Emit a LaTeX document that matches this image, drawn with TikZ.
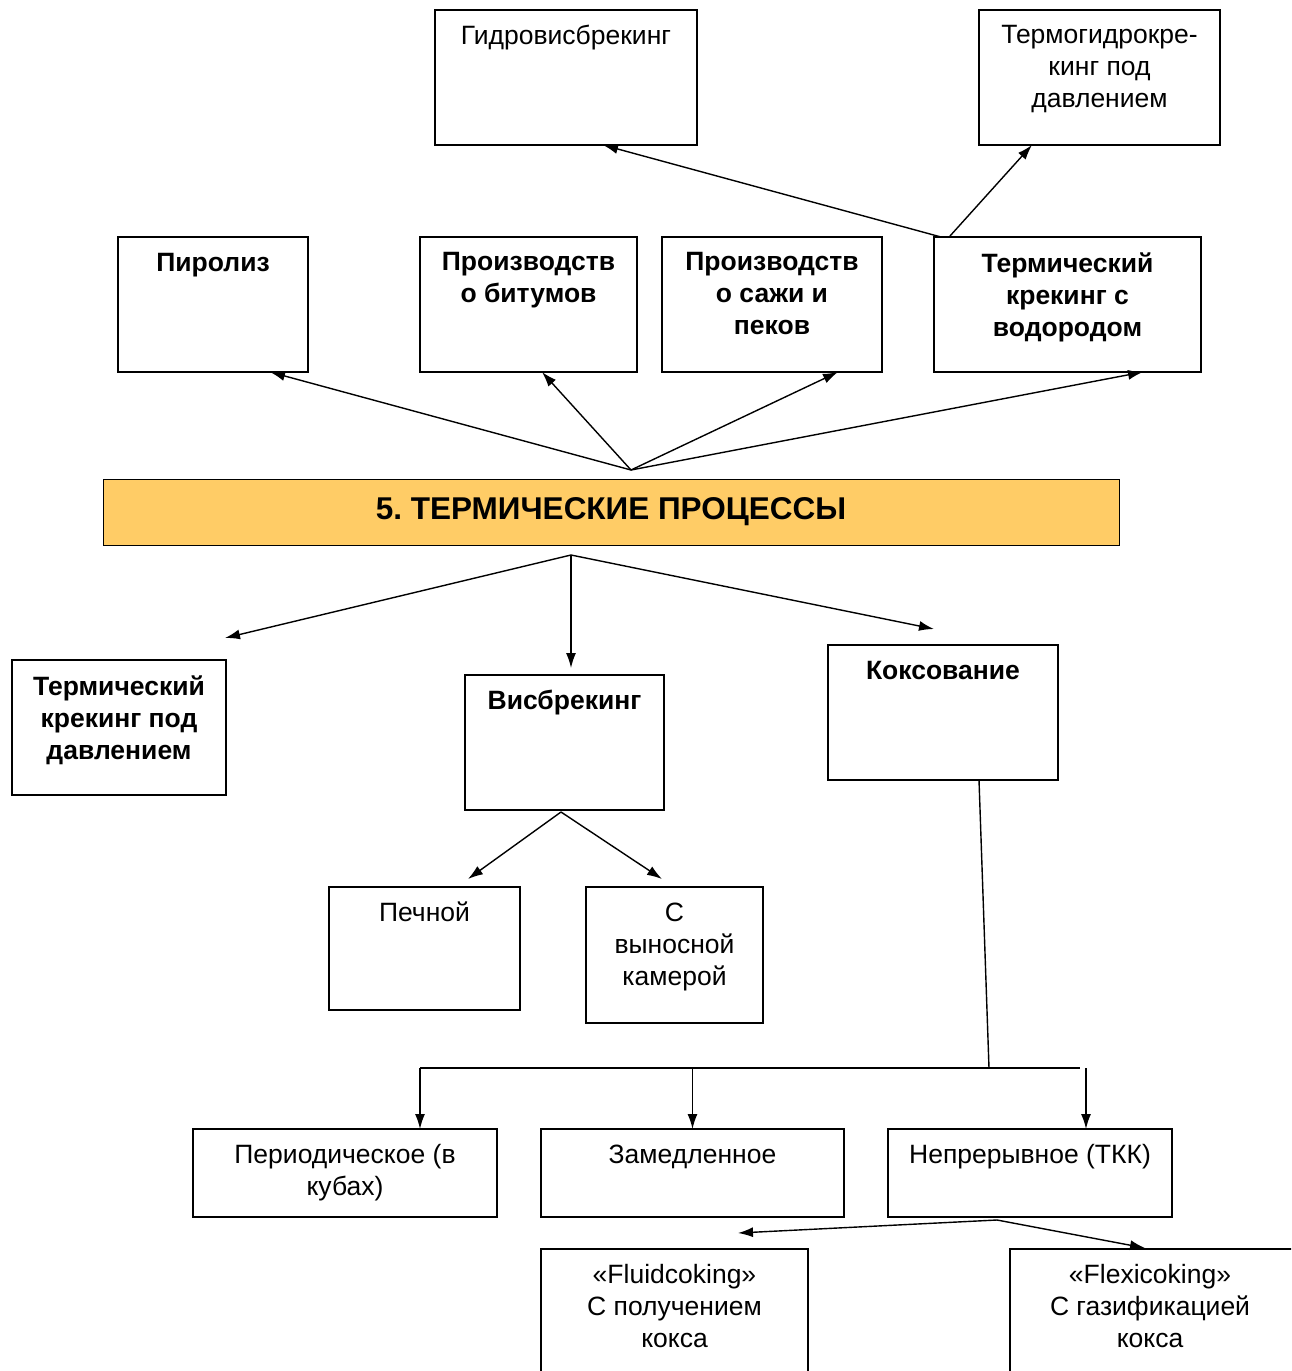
\documentclass[tikz,border=0pt]{standalone}
\usepackage{fontspec}
\setmainfont{Liberation Sans}
\usetikzlibrary{arrows.meta,calc}
\definecolor{mainfill}{RGB}{255,204,102}

\begin{document}
\begin{tikzpicture}[
    x=1pt, y=-1pt,
    font=\fontsize{26.5}{32}\selectfont,
    box/.style 2 args = {draw, line width=1.4pt, anchor=north west,
      minimum width=#1, minimum height=#2, inner sep=0pt, outer sep=0pt},
    txt/.style   = {anchor=north, align=center, inner sep=0pt,
      yshift=-11.5pt, execute at begin node=\strut},
    mtxt/.style  = {txt, yshift=-4pt},
    btxt/.style  = {txt, font=\fontsize{26.5}{32}\selectfont\bfseries},
    mbtxt/.style = {btxt, yshift=-4pt},
    link/.style  = {line width=1.4pt, -{Latex[length=15pt,width=10pt]}},
    wire/.style  = {line width=1.4pt}
  ]
  \useasboundingbox (0,0) rectangle (1291,1371);
  \clip (0,0) rectangle (1291,1371);

  % upper row
  \node[box={262}{135}, label={[txt]north:Гидровисбрекинг}] (gidro) at (435,10) {};
  \node[box={241}{135}, label={[mtxt]north:{Термогидрокре-\\кинг под\\давлением}}] (termo) at (979,10) {};
  \node[box={190}{135}, label={[btxt]north:Пиролиз}] (piro) at (118,237) {};
  \node[box={217}{135}, label={[mbtxt]north:{Производств\\о битумов}}] (bitum) at (420,237) {};
  \node[box={220}{135}, label={[mbtxt]north:{Производств\\о сажи и\\пеков}}] (sazha) at (662,237) {};
  \node[box={267}{135}, label={[mbtxt]north:{Термический\\крекинг с\\водородом}}] (vodor) at (934,237) {};

  % main
  \node[box={1016}{66}, line width=1pt, fill=mainfill,
    font=\fontsize{31.5}{36}\selectfont\bfseries] (main) at (103,479) {5.\ ТЕРМИЧЕСКИЕ ПРОЦЕССЫ};

  % lower part
  \node[box={214}{135}, label={[mbtxt]north:{Термический\\крекинг под\\давлением}}] (davl) at (12,660) {};
  \node[box={199}{135}, label={[btxt]north:Висбрекинг}] (visb) at (465,675) {};
  \node[box={230}{135}, label={[btxt]north:Коксование}] (koks) at (828,645) {};
  \node[box={191}{123}, label={[txt]north:Печной}] (pech) at (329,887) {};
  \node[box={177}{136}, label={[mtxt]north:{С\\выносной\\камерой}}] (vynos) at (586,887) {};
  \node[box={304}{88}, label={[mtxt]north:{Периодическое (в\\кубах)}}] (perio) at (193,1129) {};
  \node[box={303}{88}, label={[txt]north:Замедленное}] (zamed) at (541,1129) {};
  \node[box={284}{88}, label={[txt]north:Непрерывное (ТКК)}] (nepr) at (888,1129) {};
  \node[box={267}{140}, label={[mtxt]north:{«Fluidcoking»\\С получением\\кокса}}] (fluid) at (541,1249) {};
  \node[box={300}{140}, label={[mtxt,xshift=-10pt]north:{«Flexicoking»\\С газификацией\\кокса}}] (flexi) at (1010,1249) {};

  % hubs
  \coordinate (hubup) at ($(main.north)+(20,-9)$);
  \coordinate (hubdown) at ($(main.south)+(-40,10)$);
  \coordinate (hubvisb) at ($(visb.south)+(-3.5,2)$);
  \coordinate (hubnepr) at ($(nepr.south)+(-33,3)$);
  \coordinate (busl) at (420,1068);
  \coordinate (busr) at (1080,1068);
  \coordinate (busk) at (989,1068);

  \draw[link] ($(vodor.north west)+(7,0)$) -- ($(gidro.south west)+(168,0)$);
  \draw[link] ($(vodor.north west)+(16,-1)$) -- ($(termo.south west)+(53,0)$);

  \draw[link] (hubup) -- ($(piro.south)+(57,0)$);
  \draw[link] (hubup) -- ($(bitum.south)+(13.5,0)$);
  \draw[link] (hubup) -- ($(sazha.south)+(66,0)$);
  \draw[link] (hubup) -- ($(vodor.south)+(75.5,0)$);

  \draw[link] (hubdown) -- ($(davl.north)+(106,-22)$);
  \draw[link] (hubdown) -- ($(visb.north)+(6.5,-7)$);
  \draw[link] (hubdown) -- ($(koks.north)+(-9,-16)$);

  \draw[link] (hubvisb) -- ($(pech.north)+(43.5,-8)$);
  \draw[link] (hubvisb) -- ($(vynos.north)+(-12.5,-8)$);

  \draw[wire] ($(koks.south)+(36,0)$) -- (busk);
  \draw[wire] (busl) -- (busr);
  \draw[link] (busl) -- ($(perio.north)+(75,0)$);
  \draw[link] (zamed.north |- busl) -- (zamed.north);
  \draw[link] ($(busr)+(6,0)$) -- ($(nepr.north)+(56,0)$);

  \draw[link] (hubnepr) -- ($(fluid.north)+(63.5,-16)$);
  \draw[link] (hubnepr) -- ($(flexi.north west)+(135,-1)$);
\end{tikzpicture}
\end{document}
